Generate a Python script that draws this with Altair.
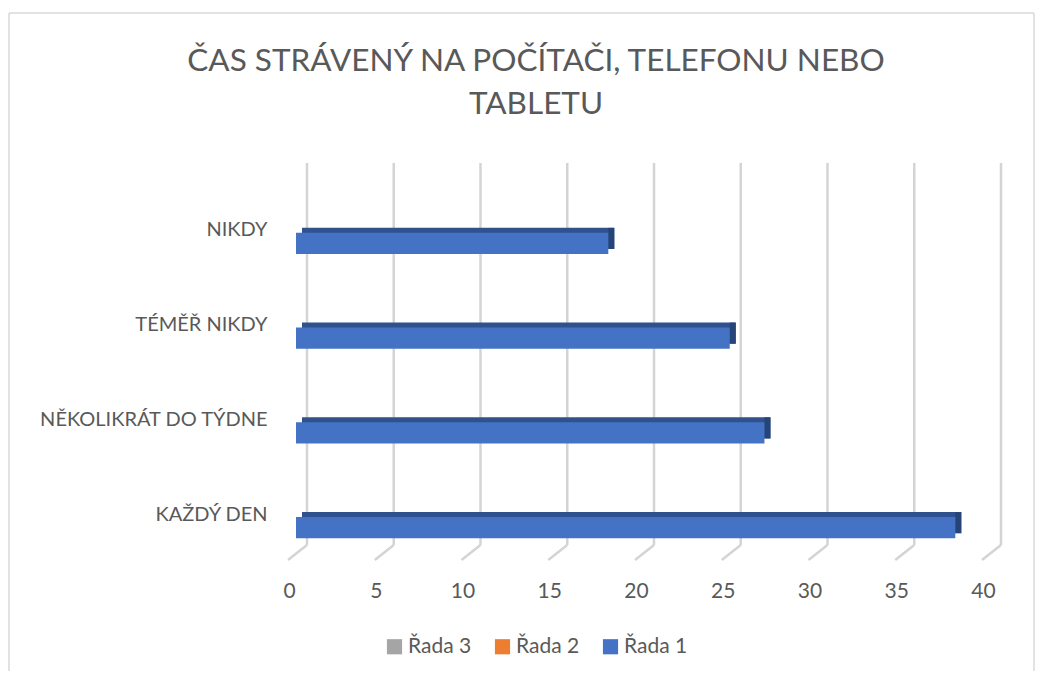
import altair as alt
import pandas as pd

categories = ["NIKDY", "TÉMĚŘ NIKDY", "NĚKOLIKRÁT DO TÝDNE", "KAŽDÝ DEN"]
values = [18, 25, 27, 38]
series_name = "Řada 1"
legend_series = ["Řada 3", "Řada 2", "Řada 1"]
legend_colors = ["#A5A5A5", "#ED7D31", "#4472C4"]
tick_values = [0, 5, 10, 15, 20, 25, 30, 35, 40]
title_lines = ["ČAS STRÁVENÝ NA POČÍTAČI, TELEFONU NEBO", "TABLETU"]

FONT = "Lato"
TXT = "#595959"

bars = pd.DataFrame({"category": categories, "value": values, "series": [series_name] * len(values)})
ticks = pd.DataFrame({"value": tick_values})
one = pd.DataFrame({"k": [0]})

W, H = 694, 379

xscale = alt.Scale(domain=[0, 40], nice=False, zero=True)
yscale = alt.Scale(domain=categories, paddingInner=0.778, paddingOuter=0.389)

x_axis = alt.Axis(values=tick_values, domain=False, ticks=False, grid=False,
                  labelFontSize=21, labelColor=TXT, labelFont=FONT, labelFlush=False,
                  labelOffset=-7, labelPadding=5, title=None)
y_axis = alt.Axis(domain=False, ticks=False, grid=False, labelFontSize=20,
                  labelColor=TXT, labelFont=FONT, labelOffset=-13,
                  labelPadding=29, title=None, labelLimit=400)

# chart frame (decoration)
frame_left = alt.Chart(one).mark_rule(color="#D9D9D9", strokeWidth=1.5).encode(
    x=alt.value(-287), y=alt.value(-183), y2=alt.value(500))
frame_top = alt.Chart(one).mark_rule(color="#D9D9D9", strokeWidth=1.5).encode(
    x=alt.value(-287), x2=alt.value(738), y=alt.value(-183))
frame_right = alt.Chart(one).mark_rule(color="#D9D9D9", strokeWidth=1.5).encode(
    x=alt.value(738), y=alt.value(-183), y2=alt.value(500))

# title as text lines
title1 = alt.Chart(one).mark_text(text=title_lines[0], fontSize=31.5, font=FONT, color=TXT,
                                   fontWeight="normal", align="center", baseline="middle").encode(
    x=alt.value(240), y=alt.value(-134))
title2 = alt.Chart(one).mark_text(text=title_lines[1], fontSize=31.5, font=FONT, color=TXT,
                                   fontWeight="normal", align="center", baseline="middle").encode(
    x=alt.value(240), y=alt.value(-91))

# back wall gridlines
grid_back = alt.Chart(ticks).mark_rule(color="#D4D4D4", strokeWidth=2.5, xOffset=11).encode(
    x=alt.X("value:Q", scale=xscale, axis=x_axis),
    y=alt.value(-33), y2=alt.value(349))
# floor gridlines
grid_floor = alt.Chart(ticks).mark_rule(color="#D4D4D4", strokeWidth=2.5, xOffset=11, x2Offset=-8).encode(
    x=alt.X("value:Q", scale=xscale),
    x2="value:Q",
    y=alt.value(349), y2=alt.value(364))

# 3D top/side face
depth = alt.Chart(bars).mark_bar(color="#2F528F", xOffset=6, x2Offset=6, yOffset=-5, y2Offset=-5).encode(
    x=alt.X("value:Q", scale=xscale),
    y=alt.Y("category:N", scale=yscale, sort=categories, axis=y_axis))
side = alt.Chart(bars).mark_bar(color="#264478", xOffset=0, x2Offset=6, yOffset=-5, y2Offset=-5).encode(
    x=alt.X("value:Q", scale=xscale),
    x2="value:Q",
    y=alt.Y("category:N", scale=yscale, sort=categories))
front = alt.Chart(bars).mark_bar().encode(
    x=alt.X("value:Q", scale=xscale),
    y=alt.Y("category:N", scale=yscale, sort=categories),
    color=alt.Color("series:N",
                    scale=alt.Scale(domain=legend_series, range=legend_colors),
                    legend=alt.Legend(orient="none", legendX=88, legendY=440,
                                      direction="horizontal", title=None,
                                      symbolType="square", symbolSize=230,
                                      symbolStrokeWidth=0, labelFontSize=21,
                                      labelFont=FONT, labelColor=TXT,
                                      columnPadding=20, labelOffset=3)))

chart = alt.layer(frame_left, frame_top, frame_right, title1, title2, grid_back, grid_floor, depth, side, front).properties(
    width=W, height=H,
    autosize=alt.AutoSizeParams(type="none"),
    padding={"left": 288, "top": 188, "right": 46, "bottom": 96},
).configure(background="white", view=alt.ViewConfig(stroke=None))

chart.save("out.html", embed_options={"renderer": "svg", "actions": False})
